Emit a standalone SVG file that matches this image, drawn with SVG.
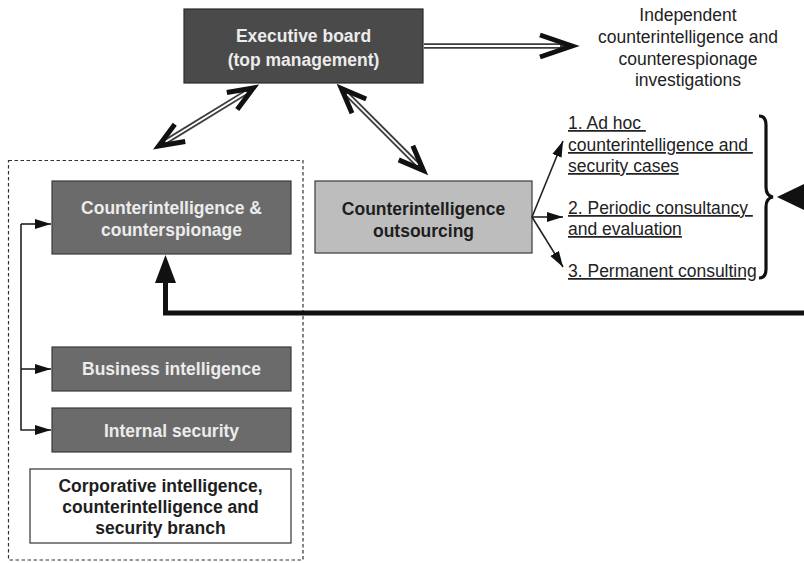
<svg xmlns="http://www.w3.org/2000/svg" width="804" height="563" viewBox="0 0 804 563">
  <style>
    .box-dark { fill: #4a4a4a; stroke: #2a2a2a; stroke-width: 1.2; }
    .box-mid { fill: #6b6b6b; stroke: #3a3a3a; stroke-width: 1.2; }
    .box-light { fill: #bdbdbd; stroke: #3a3a3a; stroke-width: 1.2; }
    .box-white { fill: #ffffff; stroke: #333333; stroke-width: 1.2; }
    .t-bold { font-family: "Liberation Sans", Arial, sans-serif; font-weight: bold; font-size: 17.5px; text-anchor: middle; }
    .t-reg { font-family: "Liberation Sans", Arial, sans-serif; font-size: 17.5px; fill: #222; }
    .u { text-decoration: underline; white-space: pre; }
    .light { fill: #ececec; }
    .dark { fill: #1e1e1e; }
    .dbl-out { fill: none; stroke: #3c3c3c; stroke-width: 5.5; }
    .dbl-in { fill: none; stroke: #ffffff; stroke-width: 1.8; }
    .chev { fill: none; stroke: #111; stroke-width: 5; stroke-linejoin: miter; stroke-linecap: butt; }
    .thin { fill: none; stroke: #222; stroke-width: 1.6; }
  </style>
  <defs>
    <marker id="triL" viewBox="0 0 16 10" refX="16" refY="5" markerWidth="16" markerHeight="11" markerUnits="userSpaceOnUse" orient="auto">
      <path d="M0,0 L16,5 L0,10 Z" fill="#111"/>
    </marker>
  </defs>

  <!-- branch container -->
  <rect x="8.5" y="160.5" width="294.5" height="399.5" fill="none" stroke="#333" stroke-width="1.2" stroke-dasharray="3.5,2.5"/>

  <!-- nodes -->
  <g id="executive-board">
    <rect class="box-dark" x="184" y="9" width="239" height="74"/>
    <text class="t-bold light" x="303.5" y="42">Executive board</text>
    <text class="t-bold light" x="303.5" y="66">(top management)</text>
  </g>

  <g id="independent-investigations">
    <text class="t-reg" text-anchor="middle" x="688" y="21">Independent</text>
    <text class="t-reg" text-anchor="middle" x="688" y="43">counterintelligence and</text>
    <text class="t-reg" text-anchor="middle" x="688" y="65">counterespionage</text>
    <text class="t-reg" text-anchor="middle" x="688" y="86">investigations</text>
  </g>

  <g id="counterintelligence">
    <rect class="box-mid" x="52" y="181" width="239" height="73"/>
    <text class="t-bold light" x="171.5" y="214">Counterintelligence &amp;</text>
    <text class="t-bold light" x="171.5" y="236">counterspionage</text>
  </g>

  <g id="outsourcing">
    <rect class="box-light" x="315" y="181" width="217" height="72"/>
    <text class="t-bold dark" x="423.5" y="215">Counterintelligence</text>
    <text class="t-bold dark" x="423.5" y="237">outsourcing</text>
  </g>

  <g id="business-intelligence">
    <rect class="box-mid" x="52" y="347" width="239" height="44"/>
    <text class="t-bold light" x="171.5" y="375">Business intelligence</text>
  </g>

  <g id="internal-security">
    <rect class="box-mid" x="52" y="408" width="239" height="44"/>
    <text class="t-bold light" x="171.5" y="437">Internal security</text>
  </g>

  <g id="branch-label">
    <rect class="box-white" x="30" y="469" width="261" height="74"/>
    <text class="t-bold dark" x="160.5" y="492">Corporative intelligence,</text>
    <text class="t-bold dark" x="160.5" y="513">counterintelligence and</text>
    <text class="t-bold dark" x="160.5" y="534">security branch</text>
  </g>

  <g id="service-options">
    <text class="t-reg u" x="568" y="129">1. Ad hoc </text>
    <text class="t-reg u" x="568" y="151">counterintelligence and </text>
    <text class="t-reg u" x="568" y="172">security cases</text>
    <text class="t-reg u" x="568" y="214">2. Periodic consultancy </text>
    <text class="t-reg u" x="568" y="235">and evaluation</text>
    <text class="t-reg u" x="568" y="277">3. Permanent consulting</text>
  </g>

  <!-- connectors -->
  <g id="connectors">
    <!-- board to independent investigations -->
    <g transform="translate(424,46)">
      <path class="dbl-out" d="M0,0 H144"/>
      <path class="dbl-in" d="M0,0 H136"/>
      <path class="chev" d="M116,-11 L148,0 L116,11"/>
    </g>
    <!-- board to branch (two-way) -->
    <g transform="translate(157,147) rotate(-31.5)">
      <path class="dbl-out" d="M4,0 H111"/>
      <path class="dbl-in" d="M10,0 H105"/>
      <path class="chev" d="M27,-10 L2,0 L27,10"/>
      <path class="chev" d="M88,-10 L113,0 L88,10"/>
    </g>
    <!-- board to outsourcing (two-way) -->
    <g transform="translate(340,87) rotate(45)">
      <path class="dbl-out" d="M4,0 H116"/>
      <path class="dbl-in" d="M10,0 H110"/>
      <path class="chev" d="M27,-10 L2,0 L27,10"/>
      <path class="chev" d="M93,-10 L118,0 L93,10"/>
    </g>

    <!-- internal distribution inside the branch -->
    <path class="thin" d="M21,224 V430 H51" marker-end="url(#triL)"/>
    <path class="thin" d="M21,224 H51" marker-end="url(#triL)"/>
    <path class="thin" d="M21,369 H51" marker-end="url(#triL)"/>

    <!-- outsourcing fan-out -->
    <path class="thin" d="M532,217 L563,141" marker-end="url(#triL)"/>
    <path class="thin" d="M532,217 L563,217" marker-end="url(#triL)"/>
    <path class="thin" d="M532,217 L563,267" marker-end="url(#triL)"/>

    <!-- bracket around the options -->
    <path d="M759,116 Q766,116 766,125 L766,187 Q766,196 773,197 Q766,198 766,207 L766,269 Q766,278 759,278" fill="none" stroke="#111" stroke-width="3.2"/>
    <path d="M804,184 L777,197 L804,210 Z" fill="#111"/>

    <!-- feedback line to counterintelligence -->
    <path d="M804,313 H165.5 V280" fill="none" stroke="#111" stroke-width="5"/>
    <path d="M155,283 L165.5,255 L176,283 Z" fill="#111"/>
  </g>
</svg>
